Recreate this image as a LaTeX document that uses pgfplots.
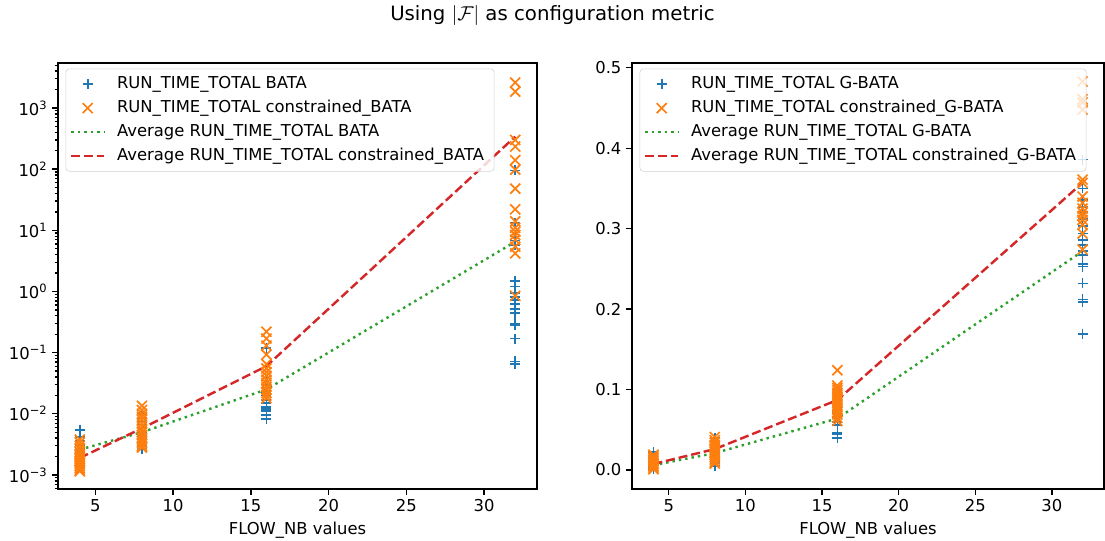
\documentclass[border=0pt]{standalone}
\usepackage{fontspec}
\setmainfont{DejaVu Sans}
\usepackage{pgfplots}
\pgfplotsset{compat=1.18}
\definecolor{tblue}{HTML}{1F77B4}
\definecolor{torange}{HTML}{FF7F0E}
\definecolor{tgreen}{HTML}{2CA02C}
\definecolor{tred}{HTML}{D62728}
\newcommand{\tp}[1]{10\textsuperscript{#1}}
\pgfplotsset{
  base/.style={
    scale only axis, anchor=south west,
    height=306.72pt,
    xmin=2.6, xmax=33.4, xtick={5,10,...,30},
    tick align=outside, tick pos=left,
    major tick length=4.1pt, minor tick length=2.4pt,
    every tick/.style={black, line width=0.95pt},
    axis line style={line width=0.95pt},
    tick label style={font=\fontsize{11.8}{14}\selectfont},
    /pgf/number format/assume math mode=true,
    label style={font=\fontsize{11.8}{14}\selectfont},
    xlabel={FLOW\_NB values},
    xlabel style={yshift=-0.5pt},
    legend cell align=left,
    legend style={at={(0,1)}, anchor=north west, xshift=5.5pt, yshift=-4pt,
      draw=black!18, rounded corners=2.5pt, fill=white, fill opacity=0.8, text opacity=1,
      font=\fontsize{11.8}{14}\selectfont, inner xsep=3pt, inner ysep=2.5pt, row sep=0pt,
      nodes={text depth=2.4pt, text height=9.2pt, inner xsep=4.2pt, inner ysep=2.8pt},
      /tikz/every odd column/.append style={column sep=4.3pt}},
  },
  mlegend/.style={legend image code/.code={\draw[mark repeat=2,mark phase=2,##1] plot coordinates {(0pt,0pt)(11.8pt,0pt)(23.6pt,0pt)};}},
  pm/.style={only marks, mark=+, color=tblue, mark size=3.6pt, line width=1.2pt,
    mark options={solid, draw=tblue}, mlegend},
  xm/.style={only marks, mark=x, color=torange, mark size=5.1pt, line width=1.2pt,
    mark options={solid, draw=torange}, mlegend},
  gl/.style={tgreen, line width=1.75pt, dash pattern=on 1.75pt off 2.9pt, no marks,
    legend image code/.code={\draw[##1] (0pt,0pt) -- (23.6pt,0pt);}},
  rl/.style={tred, line width=1.75pt, dash pattern=on 6.5pt off 2.8pt, no marks,
    legend image code/.code={\draw[##1] (0pt,0pt) -- (23.6pt,0pt);}},
}
\begin{document}
\begin{tikzpicture}
\path[use as bounding box] (0pt,0pt) rectangle (795.6pt,389.52pt);
\node[font=\fontsize{14.2}{17}\selectfont] at (397.8pt,378.2pt) {Using $|\mathcal{F}|$ as configuration metric};

\begin{axis}[base, at={(41.76pt,37.44pt)}, width=344.88pt,
  ymode=log, ymin=5.9e-4, ymax=5430,
  ytick={1e-3,1e-2,1e-1,1,10,100,1000},
  yticklabels={\tp{−3},\tp{−2},\tp{−1},\tp{0},\tp{1},\tp{2},\tp{3}},
  minor ytick={6e-4,7e-4,8e-4,9e-4,2e-3,3e-3,4e-3,5e-3,6e-3,7e-3,8e-3,9e-3,
    2e-2,3e-2,4e-2,5e-2,6e-2,7e-2,8e-2,9e-2,0.2,0.3,0.4,0.5,0.6,0.7,0.8,0.9,
    2,3,4,5,6,7,8,9,20,30,40,50,60,70,80,90,200,300,400,500,600,700,800,900,
    2000,3000,4000,5000},
]
\addplot[pm] coordinates {
 (4,5.5e-3)(4,4.2e-3)(4,3.6e-3)(4,3.0e-3)(4,2.7e-3)(4,2.4e-3)(4,2.2e-3)(4,2.0e-3)(4,1.8e-3)(4,1.6e-3)
 (8,1.0e-2)(8,8.5e-3)(8,7.5e-3)(8,6.5e-3)(8,5.8e-3)(8,5.0e-3)(8,4.5e-3)(8,4.0e-3)(8,3.5e-3)(8,3.0e-3)(8,2.7e-3)
 (16,0.12)(16,0.035)(16,0.030)(16,0.027)(16,0.023)(16,0.020)(16,0.017)(16,0.015)(16,0.013)(16,0.012)(16,0.011)(16,0.0095)(16,0.0082)
 (32,95)(32,13)(32,7.9)(32,6.8)(32,5.8)(32,1.5)(32,1.2)(32,0.95)(32,0.82)(32,0.72)(32,0.62)(32,0.52)(32,0.45)(32,0.30)(32,0.28)(32,0.17)(32,0.072)(32,0.066)
};
\addlegendentry{RUN\_TIME\_TOTAL BATA}
\addplot[xm] coordinates {
 (4,3.8e-3)(4,3.4e-3)(4,3.0e-3)(4,2.7e-3)(4,2.4e-3)(4,2.2e-3)(4,2.0e-3)(4,1.85e-3)(4,1.7e-3)(4,1.6e-3)(4,1.5e-3)(4,1.4e-3)(4,1.3e-3)(4,1.22e-3)(4,1.15e-3)
 (8,1.35e-2)(8,1.15e-2)(8,1.0e-2)(8,9e-3)(8,8e-3)(8,7e-3)(8,6.2e-3)(8,5.5e-3)(8,5e-3)(8,4.5e-3)(8,4e-3)(8,3.6e-3)(8,3.3e-3)(8,3.0e-3)(8,2.8e-3)
 (16,0.22)(16,0.17)(16,0.13)(16,0.093)(16,0.065)(16,0.055)(16,0.048)(16,0.042)(16,0.036)(16,0.032)(16,0.028)(16,0.025)(16,0.022)(16,0.020)(16,0.018)
 (32,2600)(32,1850)(32,300)(32,234)(32,140)(32,98)(32,48)(32,22)(32,14)(32,11)(32,9.5)(32,8.4)(32,7)(32,5.4)(32,4.2)(32,0.85)
};
\addlegendentry{RUN\_TIME\_TOTAL constrained\_BATA}
\addplot[gl] coordinates {(4,2.6e-3)(8,5.0e-3)(16,0.025)(32,6.5)};
\addlegendentry{Average RUN\_TIME\_TOTAL BATA}
\addplot[rl] coordinates {(4,1.9e-3)(8,5.8e-3)(16,0.06)(32,340)};
\addlegendentry{Average RUN\_TIME\_TOTAL constrained\_BATA}
\end{axis}

\begin{axis}[base, at={(455.04pt,37.44pt)}, width=339.84pt,
  ymin=-0.0236, ymax=0.506, ytick={0,0.1,...,0.5},
  yticklabel style={/pgf/number format/.cd, fixed, fixed zerofill, precision=1},
]
\addplot[pm] coordinates {
 (4,0.022)(4,0.018)(4,0.015)(4,0.012)(4,0.010)(4,0.008)(4,0.006)(4,0.004)(4,0.002)(4,0.001)
 (8,0.040)(8,0.036)(8,0.032)(8,0.028)(8,0.024)(8,0.020)(8,0.016)(8,0.012)(8,0.009)(8,0.005)
 (16,0.075)(16,0.071)(16,0.066)(16,0.060)(16,0.056)(16,0.046)(16,0.044)(16,0.040)
 (32,0.386)(32,0.350)(32,0.336)(32,0.327)(32,0.321)(32,0.312)(32,0.303)(32,0.294)(32,0.286)(32,0.280)(32,0.272)(32,0.267)(32,0.256)(32,0.253)(32,0.232)(32,0.212)(32,0.209)(32,0.169)
};
\addlegendentry{RUN\_TIME\_TOTAL G-BATA}
\addplot[xm] coordinates {
 (4,0.019)(4,0.017)(4,0.015)(4,0.013)(4,0.011)(4,0.009)(4,0.007)(4,0.005)(4,0.003)(4,0.001)
 (8,0.041)(8,0.037)(8,0.034)(8,0.031)(8,0.028)(8,0.025)(8,0.022)(8,0.019)(8,0.016)(8,0.013)(8,0.010)(8,0.008)
 (16,0.124)(16,0.105)(16,0.102)(16,0.099)(16,0.096)(16,0.093)(16,0.090)(16,0.087)(16,0.084)(16,0.081)(16,0.078)(16,0.075)(16,0.072)(16,0.069)(16,0.065)(16,0.061)
 (32,0.483)(32,0.461)(32,0.457)(32,0.448)(32,0.361)(32,0.357)(32,0.340)(32,0.332)(32,0.325)(32,0.320)(32,0.316)(32,0.311)(32,0.305)(32,0.294)(32,0.274)
};
\addlegendentry{RUN\_TIME\_TOTAL constrained\_G-BATA}
\addplot[gl] coordinates {(4,0.006)(8,0.021)(16,0.064)(32,0.272)};
\addlegendentry{Average RUN\_TIME\_TOTAL G-BATA}
\addplot[rl] coordinates {(4,0.0075)(8,0.026)(16,0.087)(32,0.357)};
\addlegendentry{Average RUN\_TIME\_TOTAL constrained\_G-BATA}
\end{axis}
\end{tikzpicture}
\end{document}
